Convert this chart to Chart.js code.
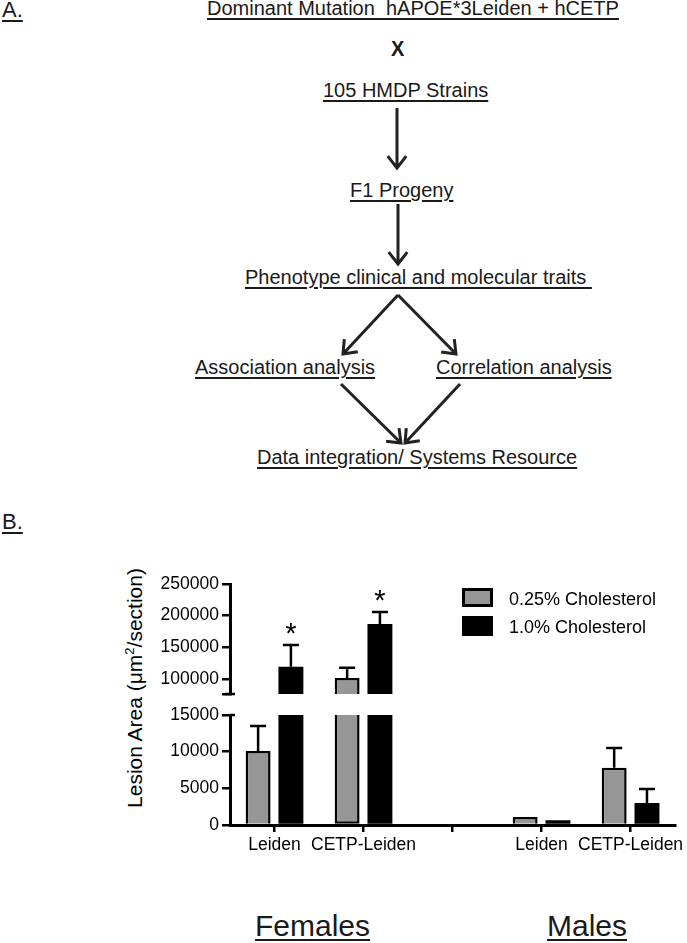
<!DOCTYPE html>
<html>
<head>
<meta charset="utf-8">
<script src="https://cdn.jsdelivr.net/npm/chart.js@4/dist/chart.umd.min.js"></script>
<style>
  html, body { margin: 0; padding: 0; background: #fff; }
  body { width: 687px; height: 943px; position: relative; overflow: hidden;
         font-family: "Liberation Sans", Arial, sans-serif; color: #1a1a1a; }
  .t { position: absolute; white-space: nowrap; line-height: 1; font-size: 20px;
       text-decoration: underline; text-decoration-thickness: 1.5px; text-underline-offset: 3px; }
  .lg { position: absolute; white-space: nowrap; font-size: 18px; line-height: 20px; color: #000; }
  .box { position: absolute; box-sizing: border-box; }
  #ytitle { position: absolute; white-space: nowrap; font-size: 21px; line-height: 1; color: #000;
            transform: translate(-50%, -50%) rotate(-90deg); }
  #chartWrap { position: absolute; left: 0; top: 540px; width: 687px; height: 340px; }
</style>
</head>
<body>

<!-- Part A: flow diagram -->
<svg id="flow" width="687" height="500" style="position:absolute;left:0;top:0"></svg>
<div class="t" style="left:2px;top:-1px;font-size:22px;">A.</div>
<div class="t" style="left:207px;top:-2px;">Dominant Mutation&nbsp; hAPOE*3Leiden + hCETP</div>
<div class="t" style="left:391px;top:38px;font-weight:bold;text-decoration:none;font-size:20px;transform:scaleY(1.1);">X</div>
<div class="t" style="left:323px;top:80px;">105 HMDP Strains</div>
<div class="t" style="left:350px;top:180px;">F1 Progeny</div>
<div class="t" style="left:245px;top:267px;">Phenotype clinical and molecular traits&nbsp;</div>
<div class="t" style="left:195px;top:357px;">Association analysis</div>
<div class="t" style="left:436px;top:357px;">Correlation analysis</div>
<div class="t" style="left:257px;top:447px;">Data integration/ Systems Resource</div>

<!-- Part B -->
<div class="t" style="left:2px;top:511px;font-size:22px;">B.</div>
<div id="ytitle" style="left:134px;top:688px;">Lesion Area (μm<sup style="font-size:13px;line-height:0">2</sup>/section)</div>
<div id="chartWrap"><canvas id="c" width="687" height="340"></canvas></div>
<div id="legend"></div>
<div class="t" id="g0" style="left:255px;top:911px;font-size:30px;text-decoration-thickness:2px;"></div>
<div class="t" id="g1" style="left:547px;top:911px;font-size:30px;text-decoration-thickness:2px;"></div>

<script>
// ---------- data ----------
const CATEGORIES = ['Leiden', 'CETP-Leiden', '', 'Leiden', 'CETP-Leiden'];
const GROUPS = ['Females', 'Males'];
const SERIES_NAMES = ['0.25% Cholesterol', '1.0% Cholesterol'];
const CHOL_025 = [10100, 101500, null, 1100, 7800];
const CHOL_025_ERR = [3400, 16000, null, 0, 2700];
const CHOL_10 = [119000, 186800, null, 650, 3000];
const CHOL_10_ERR = [34700, 19000, null, 0, 1900];
const CHOL_10_SIG = ['*', '*', '', '', ''];
const UPPER_TICKS = [100000, 150000, 200000, 250000];
const LOWER_TICKS = [0, 5000, 10000, 15000];
const UPPER_RANGE = [76000, 250000];
const LOWER_RANGE = [0, 15000];

// ---------- styles ----------
const GRAY = '#969696';
const BLACK = '#000000';
const FONT = '"Liberation Sans", Arial, sans-serif';

// ---------- Part A arrows ----------
(function drawFlow() {
  const svg = document.getElementById('flow');
  const ns = 'http://www.w3.org/2000/svg';
  function arrow(x1, y1, x2, y2) {
    const dx = x2 - x1, dy = y2 - y1, L = Math.hypot(dx, dy);
    const ux = dx / L, uy = dy / L;
    const a = 38 * Math.PI / 180, len = 15;
    const p = (ang) => [x2 - len * (ux * Math.cos(ang) - uy * Math.sin(ang)),
                        y2 - len * (ux * Math.sin(ang) + uy * Math.cos(ang))];
    const [ax, ay] = p(a), [bx, by] = p(-a);
    const path = document.createElementNS(ns, 'path');
    path.setAttribute('d', `M${x1} ${y1} L${x2} ${y2} M${ax} ${ay} L${x2} ${y2} L${bx} ${by}`);
    path.setAttribute('stroke', '#222');
    path.setAttribute('stroke-width', '3');
    path.setAttribute('fill', 'none');
    svg.appendChild(path);
  }
  arrow(397, 108, 397, 168);
  arrow(398, 204, 398, 264);
  arrow(398, 295, 343, 354);
  arrow(398, 295, 456, 354);
  arrow(341, 384, 401, 443);
  arrow(460, 384, 405, 443);
})();

// ---------- legend + group labels ----------
(function legendHtml() {
  const lg = document.getElementById('legend');
  const cols = [GRAY, BLACK];
  const tops = [588, 616];
  SERIES_NAMES.forEach((name, i) => {
    const b = document.createElement('div');
    b.className = 'box';
    b.style.cssText = `left:462px;top:${tops[i]}px;width:31px;height:${i ? 20 : 19}px;background:${cols[i]};border:3px solid #000;`;
    lg.appendChild(b);
    const t = document.createElement('div');
    t.className = 'lg';
    t.style.cssText = `left:509px;top:${tops[i] + 1}px;`;
    t.textContent = name;
    lg.appendChild(t);
  });
  document.getElementById('g0').textContent = GROUPS[0];
  document.getElementById('g1').textContent = GROUPS[1];
})();

// ---------- chart ----------
const lowPart = v => v == null ? null : Math.min(v, LOWER_RANGE[1]);
const highPart = v => (v == null || v <= UPPER_RANGE[0]) ? null : v;
const skipLow = ctx => (ctx.raw != null && ctx.raw >= LOWER_RANGE[1]) ? 'end' : 'start';

function ds(label, values, axis, stack, color) {
  const isBlack = color === BLACK;
  return {
    label, yAxisID: axis, stack,
    data: values.map(axis === 'yLow' ? lowPart : highPart),
    backgroundColor: color, borderColor: '#000', borderWidth: isBlack ? 0 : 2.5,
    borderSkipped: axis === 'yLow' ? skipLow : 'start',
    categoryPercentage: 0.737, barPercentage: 0.76
  };
}

const errorBars = {
  id: 'errorBars',
  afterDatasetsDraw(chart) {
    const ctx = chart.ctx;
    const series = [
      { vals: CHOL_025, errs: CHOL_025_ERR, sig: null, lo: 0, hi: 2 },
      { vals: CHOL_10, errs: CHOL_10_ERR, sig: CHOL_10_SIG, lo: 1, hi: 3 }
    ];
    ctx.save();
    ctx.strokeStyle = '#000';
    ctx.fillStyle = '#000';
    ctx.lineWidth = 2.5;
    for (const s of series) {
      s.vals.forEach((v, i) => {
        if (v == null) return;
        const useHigh = v > UPPER_RANGE[0];
        const scale = chart.scales[useHigh ? 'yHigh' : 'yLow'];
        const el = chart.getDatasetMeta(useHigh ? s.hi : s.lo).data[i];
        if (!el) return;
        const x = el.x;
        const e = s.errs[i] || 0;
        const y0 = scale.getPixelForValue(v);
        const y1 = scale.getPixelForValue(v + e);
        if (e > 0) {
          ctx.beginPath();
          ctx.moveTo(x, y0);
          ctx.lineTo(x, y1);
          ctx.moveTo(x - 8, y1);
          ctx.lineTo(x + 8, y1);
          ctx.stroke();
        }
        if (s.sig && s.sig[i]) {
          ctx.font = '29px ' + FONT;
          ctx.textAlign = 'center';
          ctx.textBaseline = 'alphabetic';
          ctx.fillText(s.sig[i], x, y1 - 2);
        }
      });
    }
    // axis break end caps
    const ax = chart.chartArea.left;
    ctx.lineWidth = 2.5;
    ctx.beginPath();
    ctx.moveTo(ax - 5, chart.scales.yHigh.bottom);
    ctx.lineTo(ax + 5, chart.scales.yHigh.bottom);
    ctx.moveTo(ax, chart.scales.yLow.top);
    ctx.lineTo(ax + 5, chart.scales.yLow.top);
    ctx.stroke();
    ctx.restore();
  }
};

const yCommon = (ticksList, range) => ({
  type: 'linear', position: 'left', stack: 'yaxis', stacked: false,
  min: range[0], max: range[1],
  afterBuildTicks: s => { s.ticks = [range[0], ...ticksList].filter((v, k, a) => a.indexOf(v) === k).map(v => ({ value: v })); },
  ticks: { color: '#000', font: { size: 17.5, family: FONT }, padding: 3, autoSkip: false,
           callback: v => ticksList.includes(v) ? String(v) : '' },
  grid: { display: true, drawOnChartArea: false, drawTicks: true, tickLength: 8, color: '#000', lineWidth: 2.5 },
  border: { display: true, color: '#000', width: 3 },
  afterFit: s => { s.width = 230; }
});

new Chart(document.getElementById('c'), {
  type: 'bar',
  data: {
    labels: CATEGORIES,
    datasets: [
      ds(SERIES_NAMES[0], CHOL_025, 'yLow', 'gray', GRAY),
      ds(SERIES_NAMES[1], CHOL_10, 'yLow', 'black', BLACK),
      ds(SERIES_NAMES[0], CHOL_025, 'yHigh', 'gray', GRAY),
      ds(SERIES_NAMES[1], CHOL_10, 'yHigh', 'black', BLACK)
    ]
  },
  options: {
    responsive: false,
    devicePixelRatio: 1,
    animation: false,
    events: [],
    layout: { padding: { left: 0, right: 9, top: 44, bottom: 15 } },
    plugins: { legend: { display: false }, tooltip: { enabled: false }, title: { display: false } },
    scales: {
      x: {
        type: 'category', offset: true,
        grid: { display: true, drawOnChartArea: false, drawTicks: true, tickLength: 7, offset: false, color: '#000', lineWidth: 2.5 },
        border: { display: true, color: '#000', width: 3 },
        ticks: { color: '#000', font: { size: 17.5, family: FONT }, padding: 3, maxRotation: 0, autoSkip: false },
        afterFit: s => { s.height = 40; }
      },
      yHigh: Object.assign(yCommon(UPPER_TICKS, UPPER_RANGE), { stackWeight: 110, weight: 3 }),
      yGap: {
        type: 'linear', position: 'left', stack: 'yaxis', stackWeight: 21, weight: 2, min: 0, max: 1,
        grid: { display: false }, border: { display: false }, ticks: { display: false },
        afterFit: s => { s.width = 230; }
      },
      yLow: Object.assign(yCommon(LOWER_TICKS, LOWER_RANGE), { stackWeight: 110, weight: 1 })
    }
  },
  plugins: [errorBars]
});
</script>
</body>
</html>
